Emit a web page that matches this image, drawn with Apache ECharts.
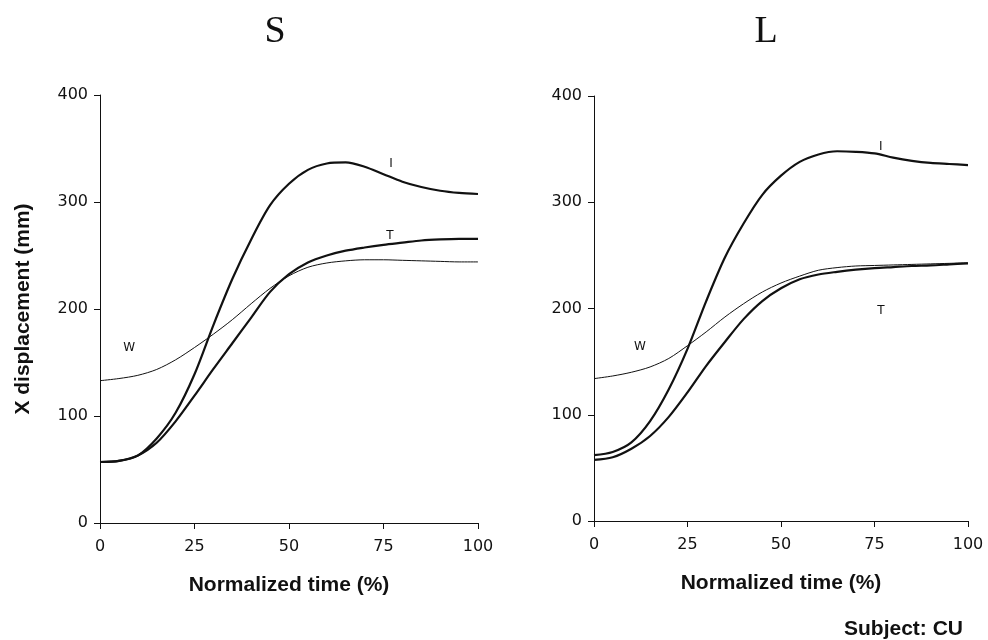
<!DOCTYPE html>
<html><head><meta charset="utf-8">
<script src="https://cdn.jsdelivr.net/npm/echarts@6/dist/echarts.min.js"></script>
<style>html,body{margin:0;padding:0;background:#fff}#c{width:988px;height:640px}</style>
</head><body><div id="c"></div>
<script>
// Normalized time (%)
const times = [0,5,10,15,20,25,30,35,40,45,50,55,60,65,70,75,80,85,90,95,100];
// Panel S
const sI = [57,58,63,79,103,139,185,228,265,297,317,330,336,337,333,326,319,314,310.5,308.5,307.5];
const sT = [57,58,63,75,95,119,144,168,192,216,232.5,243.5,250,254.5,257.5,260,262,264,265,265.5,265.5];
const sW = [133,135,138,143.5,152.5,164,176.5,190,205,219.3,231,239,243,245,246,246,245.5,245,244.5,244,244];
// Panel L
const lI = [62,65,74,94,124,162,207,248,280,307,325,338,345,348,347.5,346,342,339,337,336,335];
const lT = [57.5,60,68,80,98,121,146,168.5,190,207,219,227.5,232,234.5,236.5,238,239,240,240.5,241.5,242.5];
const lW = [134,136.5,140,145,153,165,178,192,204.5,215.5,224,230.5,236,238.5,240,240.5,241,241.5,242,242.5,243];
// Curve labels [time, value]
const sLabI = [77, 336], sLabT = [76.7, 268], sLabW = [7.7, 164];
const lLabI = [76.7, 352], lLabT = [76.7, 198], lLabW = [12.3, 164];
const xTicks = [0,25,50,75,100];
const yTicks = [0,100,200,300,400];
const panelTitles = ['S','L'];

const pairs = v => times.map((t,i)=>[t,v[i]]);
const tickFont = {fontFamily:'DejaVu Sans', fontSize:16, color:'#111'};
const nameFont = {fontFamily:'Liberation Sans', fontWeight:'bold', fontSize:21, color:'#111'};

function xAx(idx){
  return {gridIndex:idx, type:'value', min:xTicks[0], max:xTicks[xTicks.length-1], interval:25,
    name:'Normalized time (%)', nameLocation:'middle', nameGap:52, nameTextStyle:nameFont,
    axisLine:{lineStyle:{color:'#111',width:1}}, axisTick:{length:6,lineStyle:{color:'#111'}},
    axisLabel:Object.assign({margin:16},tickFont), splitLine:{show:false}};
}
function yAx(idx, withName){
  return {gridIndex:idx, type:'value', min:yTicks[0], max:yTicks[yTicks.length-1], interval:100,
    name: withName ? 'X displacement (mm)' : '', nameLocation:'middle', nameGap:66, nameRotate:90,
    nameTextStyle:nameFont,
    axisLine:{show:true,lineStyle:{color:'#111',width:1}}, axisTick:{show:true,length:6,lineStyle:{color:'#111'}},
    axisLabel:Object.assign({margin:12},tickFont), splitLine:{show:false}};
}
function lbl(text, c){
  return {markPoint:{symbol:'circle', symbolSize:1, itemStyle:{color:'rgba(0,0,0,0)'},
    label:{show:true, position:'inside', formatter:text, fontFamily:'DejaVu Sans', fontSize:12, color:'#111'},
    data:[{coord:c}]}};
}
function line(idx, data, w, text, c){
  return Object.assign({type:'line', xAxisIndex:idx, yAxisIndex:idx, data:pairs(data), smooth:0.3,
    showSymbol:false, symbol:'none', lineStyle:{color:'#111', width:w}, animation:false}, lbl(text,c));
}

const chart = echarts.init(document.getElementById('c'));
chart.setOption({
  backgroundColor:'#fff',
  animation:false,
  grid:[{left:100, top:95, width:378, height:428},{left:594, top:96, width:374, height:425}],
  title:[
    {text:panelTitles[0], left:270, top:8, textAlign:'center', textStyle:{fontFamily:'Liberation Serif', fontWeight:'normal', fontSize:38, color:'#111'}},
    {text:panelTitles[1], left:761, top:8, textAlign:'center', textStyle:{fontFamily:'Liberation Serif', fontWeight:'normal', fontSize:38, color:'#111'}},
    {text:'Subject: CU', right:20, top:614, textStyle:{fontFamily:'Liberation Sans', fontWeight:'bold', fontSize:21, color:'#111'}}
  ],
  xAxis:[xAx(0), xAx(1)],
  yAxis:[yAx(0,true), yAx(1,false)],
  series:[
    line(0, sW, 1, 'W', sLabW),
    line(0, sT, 2.2, 'T', sLabT),
    line(0, sI, 2.2, 'I', sLabI),
    line(1, lW, 1, 'W', lLabW),
    line(1, lT, 2.2, 'T', lLabT),
    line(1, lI, 2.2, 'I', lLabI)
  ]
});
</script></body></html>
